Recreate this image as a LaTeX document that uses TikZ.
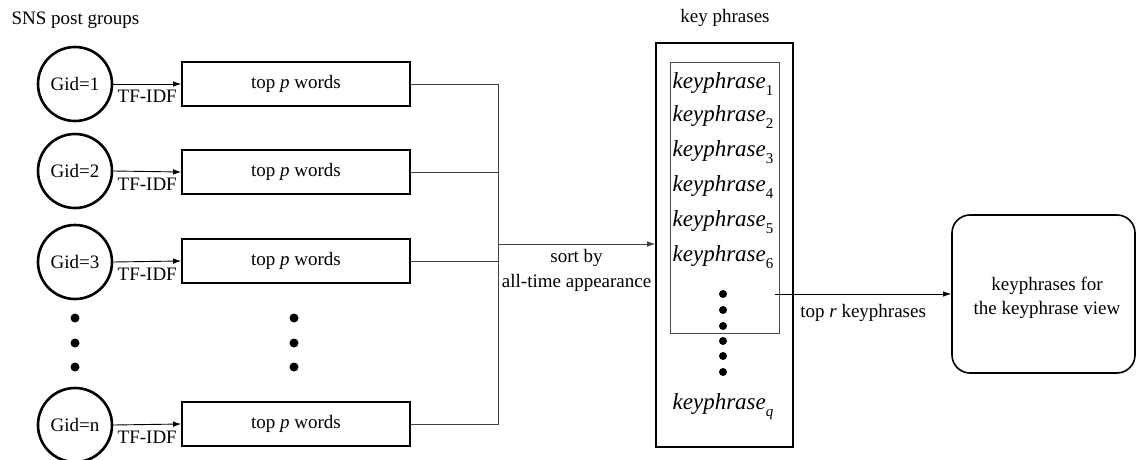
\documentclass[tikz,border=0pt]{standalone}
\usepackage{fontspec}
\setmainfont{Liberation Serif}
\usetikzlibrary{arrows.meta}
\newcommand{\kphr}[1]{\textit{keyphrase}\raisebox{-0.3em}{\fontsize{15}{15}\selectfont #1}}
\begin{document}
\begin{tikzpicture}[x=1pt,y=-1pt,
  every node/.style={font=\fontsize{19}{22}\selectfont},
  gid/.style={draw, circle, line width=2.6pt, minimum size=74pt, inner sep=0pt},
  wordbox/.style={draw, line width=1.6pt, minimum width=228pt, minimum height=44pt, inner sep=0pt},
  tip/.style={-{Latex[length=8pt,width=5.5pt]}},
  thin link/.style={draw=black!75, line width=0.8pt},
  bigdot/.style={circle, fill=black, minimum size=9pt, inner sep=0pt},
  kpdot/.style={circle, fill=black, minimum size=8pt, inner sep=0pt},
  kpitem/.style={font=\fontsize{23}{25}\selectfont}]
\useasboundingbox (0,0) rectangle (1138,460);

% titles
\node[anchor=west] (t1) at (8,20) {SNS post groups};
\node (t2) at (725,18) {key phrases};

% post groups and their word lists
\node[gid] (g1) at (75,84) {Gid=1};
\node[gid] (g2) at (75,171) {Gid=2};
\node[gid] (g3) at (75,262) {Gid=3};
\node[gid] (gn) at (75,425) {Gid=n};

\node[wordbox] (b1) at (296,84) {top \textit{p} words};
\node[wordbox] (b2) at (296,172) {top \textit{p} words};
\node[wordbox] (b3) at (296,261) {top \textit{p} words};
\node[wordbox] (bn) at (296,424) {top \textit{p} words};

\foreach \g/\b in {g1/b1,g2/b2,g3/b3,gn/bn}{
  \draw[tip, line width=0.9pt] (\g.east) -- (\b.west)
    node[pos=0.5, below=5pt, inner sep=1pt] {TF-IDF};
}

% ellipsis dots
\foreach \y [count=\i] in {318,343,367}{
  \node[bigdot] (ld\i) at (75,\y) {};
  \node[bigdot] (rd\i) at (294,\y) {};
}

% merge bus
\coordinate (bt) at (498,84);
\coordinate (bb) at (498,424);
\coordinate (bs) at (498,244);
\draw[thin link] (b1.east) -- (bt) -- (bb) -- (bn.east);
\draw[thin link] (b2.east) -- (b2.east -| bt);
\draw[thin link] (b3.east) -- (b3.east -| bt);

% key phrase container
\node[draw, line width=1.6pt, minimum width=137pt, minimum height=404pt, inner sep=0pt] (outer) at (724.5,245) {};
\node[draw=black!70, line width=0.8pt, minimum width=109pt, minimum height=271pt, inner sep=0pt] (inner) at (724.5,197.5) {};

\draw[thin link, tip] (bs) -- (bs -| outer.west)
  node[pos=0.5, below=4pt, align=center, inner sep=1pt, font=\fontsize{19}{25}\selectfont] {sort by\\all-time appearance};

\foreach \y/\s [count=\i] in {84/1,117/2,152/3,187/4,222/5,257/6}{
  \node[kpitem] (k\i) at (723,\y) {\kphr{\s}};
}
\node[kpitem] (kq) at (723,407) {\kphr{\textit{q}}};
\foreach \y [count=\i] in {294,310,326,341,356,372}{
  \node[kpdot] (kd\i) at (723,\y) {};
}

% final view
\node[draw, line width=1.6pt, rounded corners=18pt, minimum width=183pt, minimum height=158pt, inner sep=0pt] (view) at (1043.5,294) {};
\node[align=center, font=\fontsize{19}{24}\selectfont] (vtext) at (1047,298) {keyphrases for\\the keyphrase view};
\coordinate (ks) at (775,294);
\draw[tip, line width=0.9pt] (ks) -- (view.west)
  node[pos=0.5, below=9pt, inner sep=1pt] {top \textit{r} keyphrases};
\end{tikzpicture}
\end{document}
